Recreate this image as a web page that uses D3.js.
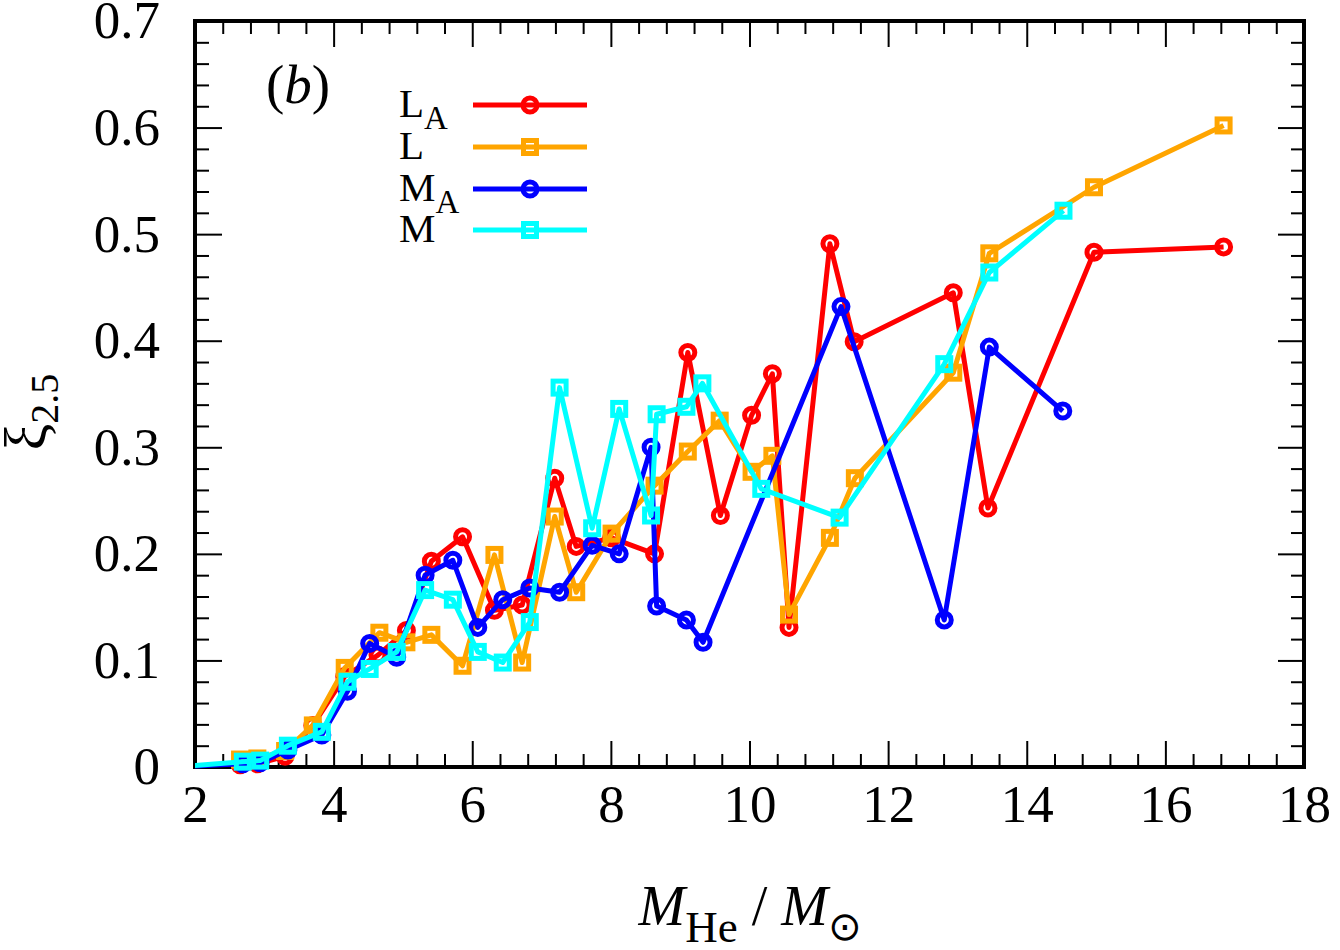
<!DOCTYPE html>
<html>
<head>
<meta charset="utf-8">
<script src="https://cdn.jsdelivr.net/npm/d3@7"></script>
<style>
  body { margin: 0; background: #fff; }
  svg { display: block; }
  text { font-family: "Liberation Serif", "Times New Roman", serif; fill: #000; }
</style>
</head>
<body>
<div id="chart"></div>
<script>
// series data (x = M_He / M_sun, y = xi_2.5)
const xLA = [2.65, 2.9, 3.3, 3.7, 4.16, 4.64, 5.05, 5.41, 5.86, 6.32, 6.72, 7.19, 7.50, 8.01, 8.63, 9.11, 9.58, 10.03, 10.33, 10.57, 11.16, 11.51, 12.94, 13.44, 14.97, 16.84];
const yLA = [0.002, 0.003, 0.010, 0.039, 0.085, 0.105, 0.128, 0.193, 0.216, 0.147, 0.152, 0.271, 0.207, 0.215, 0.200, 0.389, 0.236, 0.330, 0.369, 0.131, 0.491, 0.399, 0.445, 0.243, 0.483, 0.488];

const xL = [2.65, 2.9, 3.3, 3.7, 4.16, 4.66, 5.05, 5.41, 5.86, 6.32, 6.72, 7.19, 7.50, 8.01, 8.63, 9.11, 9.57, 10.03, 10.33, 10.57, 11.16, 11.52, 12.94, 13.46, 14.97, 16.84];
const yL = [0.007, 0.008, 0.015, 0.039, 0.093, 0.126, 0.117, 0.124, 0.095, 0.199, 0.098, 0.235, 0.164, 0.219, 0.264, 0.296, 0.325, 0.277, 0.292, 0.143, 0.215, 0.271, 0.370, 0.482, 0.544, 0.602];

const xMA = [1.7, 2.69, 2.94, 3.34, 3.83, 4.2, 4.52, 4.91, 5.32, 5.72, 6.08, 6.44, 6.83, 7.26, 7.73, 8.12, 8.58, 8.66, 9.09, 9.33, 11.32, 12.81, 13.46, 14.52];
const yMA = [0.0, 0.003, 0.004, 0.016, 0.030, 0.071, 0.116, 0.103, 0.180, 0.194, 0.131, 0.157, 0.168, 0.164, 0.208, 0.200, 0.300, 0.151, 0.138, 0.117, 0.432, 0.138, 0.394, 0.334];

const xM = [1.7, 2.69, 2.94, 3.34, 3.83, 4.2, 4.52, 4.91, 5.32, 5.72, 6.08, 6.44, 6.83, 7.26, 7.73, 8.12, 8.58, 8.66, 9.09, 9.32, 10.17, 11.30, 12.81, 13.46, 14.53];
const yM = [0.0, 0.005, 0.006, 0.020, 0.033, 0.080, 0.092, 0.108, 0.166, 0.157, 0.108, 0.098, 0.136, 0.356, 0.224, 0.336, 0.236, 0.331, 0.338, 0.360, 0.261, 0.234, 0.378, 0.464, 0.522];

const seriesNames = ["L", "L", "M", "M"];
const seriesSubs = ["A", "", "A", ""];
const seriesColors = ["#ff0000", "#ffa500", "#0000ff", "#00ffff"];
const seriesMarks = ["circle", "square", "circle", "square"];

const xTicks = [2, 4, 6, 8, 10, 12, 14, 16, 18];
const yTicks = [0, 0.1, 0.2, 0.3, 0.4, 0.5, 0.6, 0.7];

// frame of the plot, in pixels
var W = 1340, H = 950,
    fLeft = 195, fRight = 1304, fTop = 21, fBottom = 767,
    LW = 5; //line width of the curves

var svg = d3.select("#chart").append("svg")
    .attr("width", W)
    .attr("height", H);

svg.append("rect").attr("width", W).attr("height", H).attr("fill", "#fff");

var x = d3.scaleLinear().domain([2, 18]).range([fLeft, fRight]);
var y = d3.scaleLinear().domain([0, 0.7]).range([fBottom, fTop]);

var xMinor = d3.range(2, 18.001, 0.4).filter(function(v){ return Math.abs(v/2 - Math.round(v/2)) > 1e-6; });
var yMinor = d3.range(0, 0.7001, 0.02).filter(function(v){ return Math.abs(v*10 - Math.round(v*10)) > 1e-6; });

var fmtY = function(d){ return d === 0 ? "0" : d3.format(".1f")(d); };

//major + minor ticks on all four sides, pointing inwards
function drawAxis(axis, tx, ty){
  var g = svg.append("g").attr("transform", "translate(" + tx + "," + ty + ")").call(axis);
  g.select(".domain").remove();
  g.selectAll(".tick line").attr("stroke", "#000").attr("stroke-width", 2);
  g.selectAll(".tick text")
    .attr("font-family", "Liberation Serif, Times New Roman, serif")
    .attr("font-size", 53);
  return g;
}

drawAxis(d3.axisBottom(x).tickValues(xTicks).tickSize(-26).tickPadding(17).tickFormat(d3.format("d")), 0, fBottom);
drawAxis(d3.axisBottom(x).tickValues(xMinor).tickSize(-13).tickFormat(""), 0, fBottom);
drawAxis(d3.axisTop(x).tickValues(xTicks).tickSize(-26).tickFormat(""), 0, fTop);
drawAxis(d3.axisTop(x).tickValues(xMinor).tickSize(-13).tickFormat(""), 0, fTop);
drawAxis(d3.axisLeft(y).tickValues(yTicks).tickSize(-27).tickPadding(35).tickFormat(fmtY), fLeft, 0);
drawAxis(d3.axisLeft(y).tickValues(yMinor).tickSize(-14).tickFormat(""), fLeft, 0);
drawAxis(d3.axisRight(y).tickValues(yTicks).tickSize(-26).tickFormat(""), fRight, 0);
drawAxis(d3.axisRight(y).tickValues(yMinor).tickSize(-13).tickFormat(""), fRight, 0);

svg.append("rect")
  .attr("x", fLeft).attr("y", fTop)
  .attr("width", fRight - fLeft).attr("height", fBottom - fTop)
  .attr("fill", "none").attr("stroke", "#000").attr("stroke-width", 4);

// clip only on the left so the first segments start at the frame
svg.append("clipPath").attr("id", "clip")
  .append("rect")
  .attr("x", fLeft).attr("y", 0)
  .attr("width", W - fLeft).attr("height", H);

var allX = [xLA, xL, xMA, xM], allY = [yLA, yL, yMA, yM];

var line = d3.line()
  .x(function(d){ return x(d[0]); })
  .y(function(d){ return y(d[1]); });

function drawMark(sel, kind, color){
  if(kind === "circle"){
    sel.append("circle").attr("r", 7)
      .attr("fill", "none").attr("stroke", color).attr("stroke-width", LW);
  } else {
    sel.append("rect").attr("x", -6.5).attr("y", -6.5).attr("width", 13).attr("height", 13)
      .attr("fill", "none").attr("stroke", color).attr("stroke-width", LW);
  }
}

var plot = svg.append("g").attr("clip-path", "url(#clip)");

for(var s = 0; s < 4; s++){
  var pts = allX[s].map(function(v, i){ return [v, allY[s][i]]; });
  var g = plot.append("g");
  g.append("path")
    .attr("d", line(pts))
    .attr("fill", "none")
    .attr("stroke", seriesColors[s])
    .attr("stroke-width", LW)
    .attr("stroke-linejoin", "round");
  var m = g.selectAll(".mk").data(pts).enter().append("g")
    .attr("class", "mk")
    .attr("transform", function(d){ return "translate(" + x(d[0]) + "," + y(d[1]) + ")"; });
  drawMark(m, seriesMarks[s], seriesColors[s]);
}

// panel label
var lab = svg.append("text").attr("x", 266).attr("y", 103).attr("font-size", 55);
lab.append("tspan").text("(");
lab.append("tspan").attr("font-style", "italic").text("b");
lab.append("tspan").text(")");

// legend
var legY = [105, 147, 189, 230];
for(var k = 0; k < 4; k++){
  var t = svg.append("text").attr("x", 399).attr("y", legY[k] + 12).attr("font-size", 41);
  t.append("tspan").text(seriesNames[k]);
  if(seriesSubs[k]) t.append("tspan").attr("font-size", 33).attr("dy", 12).text(seriesSubs[k]);
  svg.append("line")
    .attr("x1", 473).attr("x2", 587)
    .attr("y1", legY[k]).attr("y2", legY[k])
    .attr("stroke", seriesColors[k]).attr("stroke-width", LW);
  var lm = svg.append("g").attr("transform", "translate(530," + legY[k] + ")");
  drawMark(lm, seriesMarks[k], seriesColors[k]);
}

// axis titles
var xt = svg.append("text").attr("x", 750).attr("y", 925)
  .attr("text-anchor", "middle").attr("font-size", 56);
xt.append("tspan").attr("font-style", "italic").text("M");
xt.append("tspan").attr("font-size", 45).attr("dy", 17).text("He");
xt.append("tspan").attr("dy", -17).text(" / ");
xt.append("tspan").attr("font-style", "italic").text("M");
xt.append("tspan").attr("font-size", 40).attr("dy", 15)
  .attr("font-family", "DejaVu Sans").text("\u2299");

var yt = svg.append("text")
  .attr("transform", "translate(46,412) rotate(-90)")
  .attr("text-anchor", "middle").attr("font-size", 60);
yt.append("tspan").text("\u03BE");
yt.append("tspan").attr("font-size", 40).attr("dy", 12).text("2.5");
</script>
</body>
</html>
